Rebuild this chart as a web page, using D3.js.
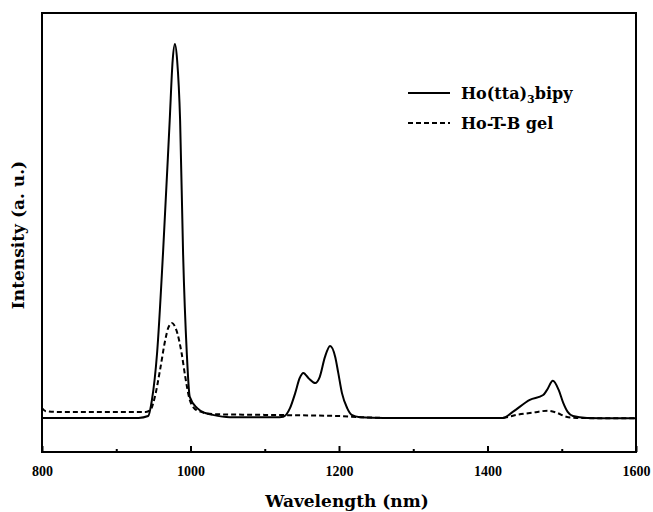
<!DOCTYPE html>
<html>
<head>
<meta charset="utf-8">
<script src="https://cdn.jsdelivr.net/npm/d3@7"></script>
<style>
  body { margin: 0; background: #fff; }
  text { font-family: "Liberation Serif", "DejaVu Serif", serif; font-weight: bold; fill: #000; }
  .titulo, .leyenda text { font-family: "DejaVu Serif", serif; }
</style>
</head>
<body>
<div id="grafico"></div>
<script>
const wlSolido = [800, 850, 900, 930, 943, 948, 955, 963, 972, 976, 979, 982, 986, 990, 995, 999, 1009, 1020, 1030, 1053, 1080, 1120,
    1125, 1134, 1141, 1147, 1152, 1159, 1168, 1174, 1181, 1188, 1195, 1199, 1204, 1211, 1217, 1228, 1260, 1300, 1350, 1400, 1421,
    1434, 1457, 1475, 1480, 1488, 1496, 1502, 1508, 1515, 1534, 1570, 1600];
const intSolido = [0.003, 0.003, 0.003, 0.003, 0.008, 0.05, 0.176, 0.443, 0.797, 0.957, 1.0, 0.957, 0.797, 0.443, 0.176, 0.059, 0.029, 0.016, 0.011, 0.005, 0.005, 0.005,
    0.006, 0.029, 0.069, 0.109, 0.123, 0.109, 0.096, 0.112, 0.165, 0.195, 0.165, 0.123, 0.069, 0.029, 0.011, 0.005, 0.003, 0.003, 0.003, 0.003, 0.003,
    0.019, 0.051, 0.064, 0.077, 0.102, 0.077, 0.043, 0.019, 0.008, 0.003, 0.002, 0.002];

const wlGel = [800, 805, 820, 860, 900, 940, 946, 952, 959, 966, 970, 975, 981, 988, 993, 999, 1008, 1030, 1100, 1200, 1230, 1260, 1320, 1420,
    1439, 1461, 1481, 1493, 1506, 1520, 1560, 1600];
const intGel = [0.029, 0.021, 0.019, 0.019, 0.019, 0.019, 0.024, 0.059, 0.131, 0.211, 0.243, 0.256, 0.237, 0.176, 0.112, 0.051, 0.024, 0.013, 0.011, 0.008, 0.005, 0.003, 0.003, 0.003,
    0.011, 0.017, 0.022, 0.017, 0.006, 0.003, 0.002, 0.002];

const series = [
    { nombre: "Ho(tta)", sub: "3", resto: "bipy", x: wlSolido, y: intSolido, dash: null },
    { nombre: "Ho-T-B gel", sub: null, resto: null, x: wlGel, y: intGel, dash: "5,3" }
];
const ticksMayores = [800, 1000, 1200, 1400, 1600];
const ticksMenores = [900, 1100, 1300, 1500];

const WIDTH = 653, HEIGHT = 512;
const MARGIN = { left: 42, right: 17, top: 13, bottom: 60 };

const svg = d3.select("#grafico").append("svg").attr("width", WIDTH).attr("height", HEIGHT);

const escalaX = d3.scaleLinear().domain([800, 1600]).range([MARGIN.left, WIDTH - MARGIN.right]);
const escalaY = d3.scaleLinear().domain([-0.088, 1.083]).range([HEIGHT - MARGIN.bottom, MARGIN.top]);

// lineas de datos
const linea = d3.line()
    .x(d => escalaX(d[0]))
    .y(d => escalaY(d[1]))
    .curve(d3.curveMonotoneX);

series.forEach(function(s) {
    const puntos = s.x.map((w, i) => [w, s.y[i]]);
    svg.append("path")
        .datum(puntos)
        .attr("d", linea)
        .attr("fill", "none")
        .attr("stroke", "#000")
        .attr("stroke-width", 2)
        .attr("stroke-dasharray", s.dash);
});

// marco
svg.append("rect")
    .attr("x", MARGIN.left).attr("y", MARGIN.top)
    .attr("width", WIDTH - MARGIN.left - MARGIN.right)
    .attr("height", HEIGHT - MARGIN.top - MARGIN.bottom)
    .attr("fill", "none").attr("stroke", "#000").attr("stroke-width", 2);

// eje x con ticks hacia dentro
const yEje = HEIGHT - MARGIN.bottom;
const ejeX = d3.axisBottom(escalaX).tickValues(ticksMayores).tickSize(-6).tickPadding(14).tickFormat(d3.format("d"));
const gx = svg.append("g").attr("transform", "translate(0," + yEje + ")").call(ejeX);
gx.select(".domain").remove();
gx.selectAll("line").attr("stroke-width", 2);
gx.selectAll("text").style("font-size", "14px").style("font-family", "Liberation Serif").style("font-weight", "bold");

const ejeMenor = d3.axisBottom(escalaX).tickValues(ticksMenores).tickSize(-3).tickFormat("");
const gm = svg.append("g").attr("transform", "translate(0," + yEje + ")").call(ejeMenor);
gm.select(".domain").remove();
gm.selectAll("line").attr("stroke-width", 2);

// titulos de ejes
svg.append("text")
    .attr("class", "titulo")
    .attr("x", (escalaX(800) + escalaX(1600)) / 2 + 8)
    .attr("y", 507)
    .attr("text-anchor", "middle")
    .style("font-size", "17px")
    .text("Wavelength (nm)");

svg.append("text")
    .attr("class", "titulo")
    .attr("transform", "translate(24,235) rotate(-90)")
    .attr("text-anchor", "middle")
    .style("font-size", "17px")
    .text("Intensity (a. u.)");

// leyenda
const leyenda = svg.selectAll(".leyenda")
    .data(series)
    .enter().append("g")
    .attr("class", "leyenda")
    .attr("transform", (d, i) => "translate(408," + (93 + i * 30) + ")");

leyenda.append("line")
    .attr("x1", 0).attr("x2", 42)
    .attr("stroke", "#000").attr("stroke-width", 2)
    .attr("stroke-dasharray", d => d.dash);

const textos = leyenda.append("text")
    .attr("x", 53)
    .attr("dy", "0.38em")
    .style("font-size", "16px");

textos.append("tspan").text(d => d.nombre);
textos.filter(d => d.sub).append("tspan")
    .attr("dy", 4).style("font-size", "11px").text(d => d.sub);
textos.filter(d => d.resto).append("tspan")
    .attr("dy", -4).text(d => d.resto);
</script>
</body>
</html>
